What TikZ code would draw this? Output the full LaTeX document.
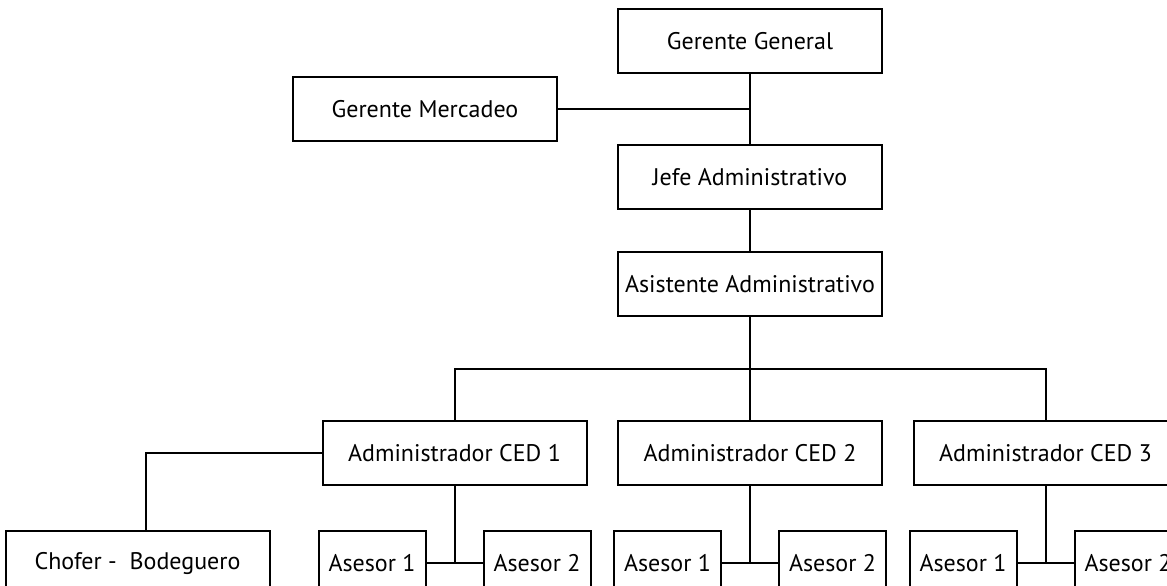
\documentclass[tikz,border=0pt]{standalone}
\usepackage{fontspec}
\setmainfont{PT Sans}
\usepackage{tikz}
\usetikzlibrary{positioning}

\begin{document}
\begin{tikzpicture}[line width=1pt]

        % Define style
        \tikzstyle{cargo} = [rectangle, draw, minimum width=132pt, minimum height=32pt, inner sep=2pt, align=center, font=\fontsize{12}{14}\selectfont]
        \tikzstyle{asesor} = [cargo, minimum width=53.5pt]

        % Frame
        \useasboundingbox (0,0) rectangle (583.5pt,-292.5pt);
        \clip (0,0) rectangle (583.5pt,-292.5pt);

        % Blocks (top to bottom)
        \node[cargo] (gg) at (375pt,-20.5pt) {Gerente General};
        \node[cargo, below=35pt of gg] (jefe) {Jefe Administrativo};
        \path (gg.south) -- (jefe.north) coordinate[midway] (gm);
        \node[cargo, left=96pt of gm] (merc) {Gerente Mercadeo};
        \node[cargo, below=20.5pt of jefe] (asis) {Asistente Administrativo};

        % Centros
        \node[cargo, below=51.5pt of asis] (adm2) {Administrador CED 2};
        \node[cargo, left=14.75pt of adm2] (adm1) {Administrador CED 1};
        \node[cargo, right=14.75pt of adm2] (adm3) {Administrador CED 3};
        \path (asis.south) -- (adm2.north) coordinate[midway] (bus);

        % Asesores
        \node[asesor, below=22pt of adm1, xshift=-41.25pt] (a11) {Asesor 1};
        \node[asesor, below=22pt of adm1, xshift=41.25pt] (a12) {Asesor 2};
        \node[asesor, below=22pt of adm2, xshift=-41.25pt] (a21) {Asesor 1};
        \node[asesor, below=22pt of adm2, xshift=41.25pt] (a22) {Asesor 2};
        \node[asesor, below=22pt of adm3, xshift=-41.25pt] (a31) {Asesor 1};
        \node[asesor, below=22pt of adm3, xshift=41.25pt] (a32) {Asesor 2};
        \node[cargo, left=23.5pt of a11] (chofer) {Chofer -\ \ Bodeguero};

        % Lines
        \draw (gg.south) -- (jefe.north);
        \draw (merc.east) -- (gm);
        \draw (jefe.south) -- (asis.north);
        \draw (asis.south) -- (adm2.north);
        \draw (adm1.north) |- (bus) -| (adm3.north);
        \draw (adm1.west) -| ([xshift=4pt]chofer.north);
        \foreach \i in {1,2,3} {
            \draw (adm\i.south) -- (adm\i.south |- a\i1.east);
            \draw (a\i1.east) -- (a\i2.west);
        }

    \end{tikzpicture}
\end{document}
